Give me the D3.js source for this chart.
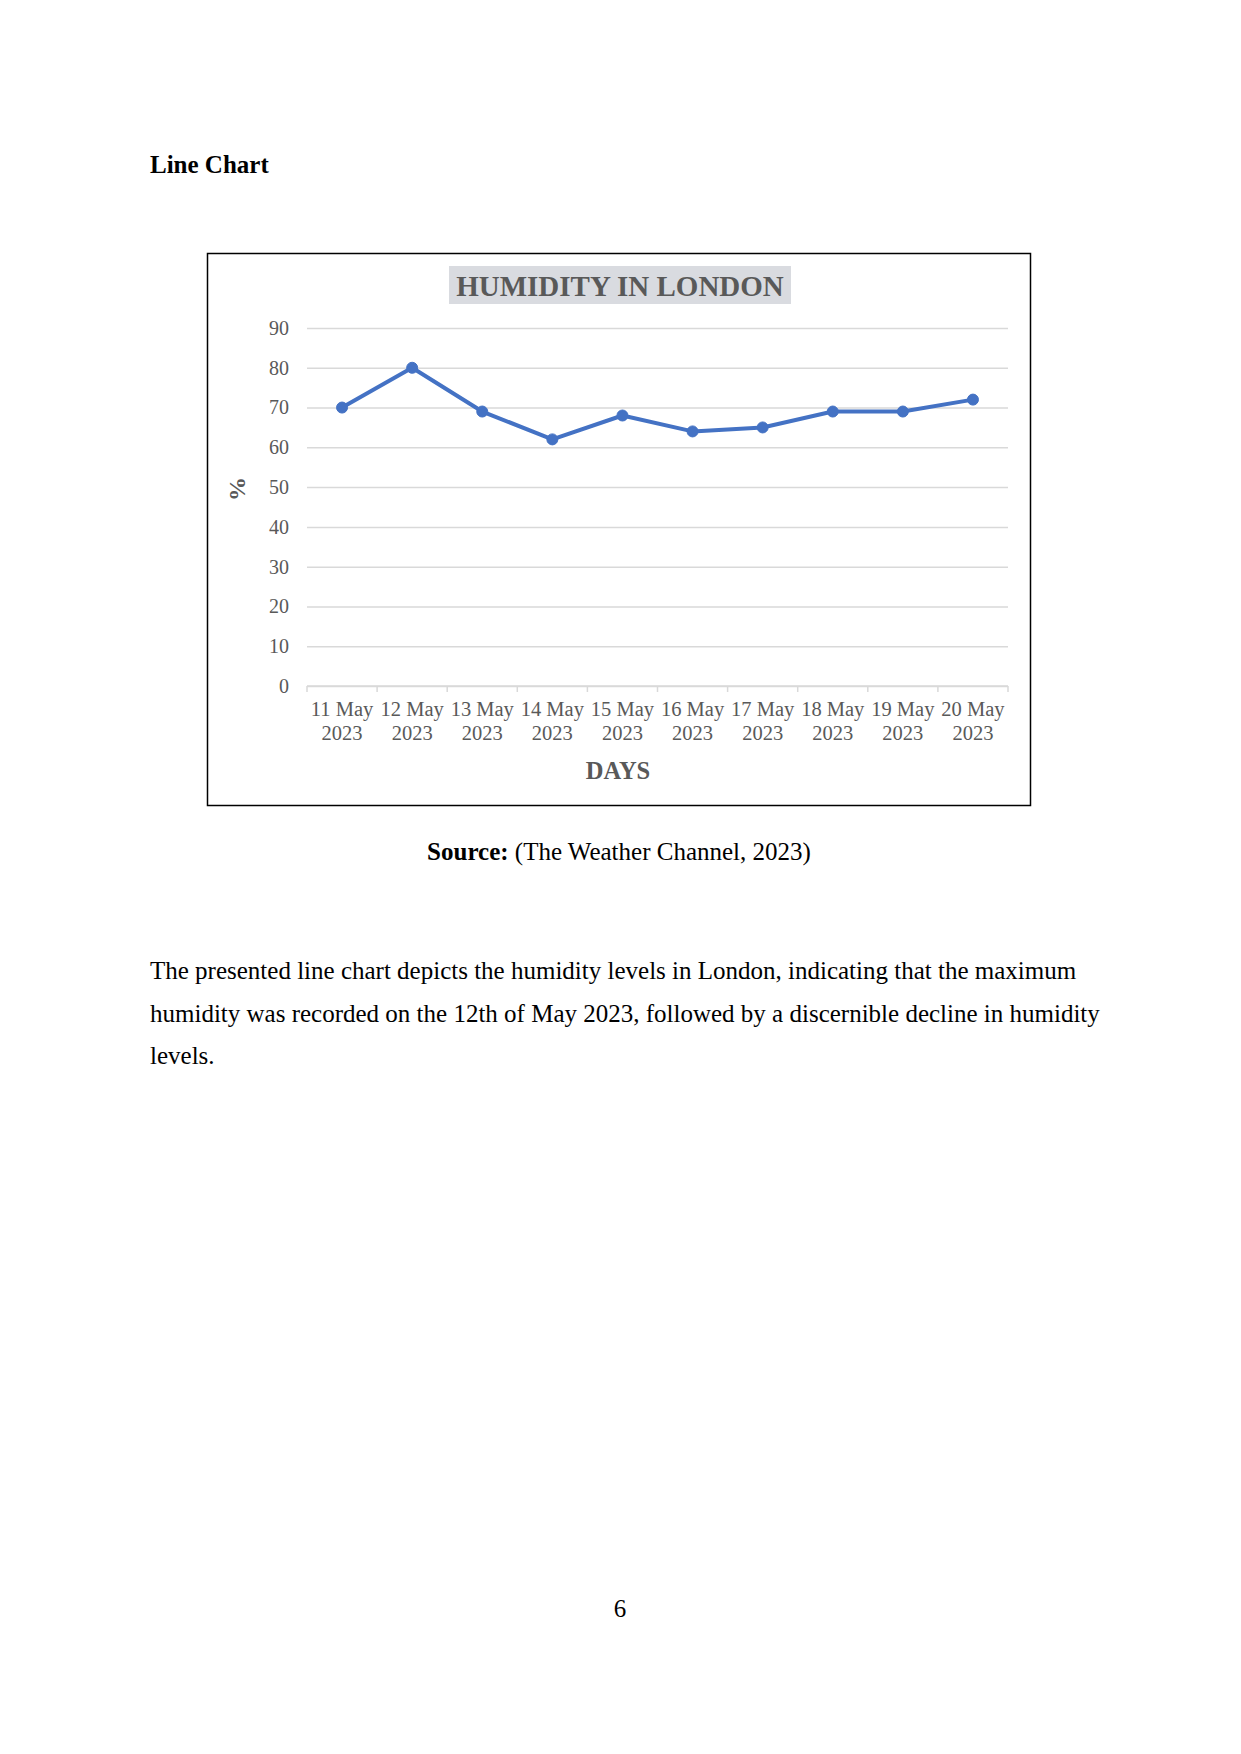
<!DOCTYPE html>
<html>
<head>
<meta charset="utf-8">
<script src="https://cdn.jsdelivr.net/npm/d3@7"></script>
<style>
  html, body { margin: 0; padding: 0; background: #fff; }
  svg { display: block; }
  text { font-family: "Liberation Serif", "Times New Roman", serif; }
</style>
</head>
<body>
<svg id="page" width="1241" height="1754"></svg>
<script>
const days = ["11 May 2023", "12 May 2023", "13 May 2023", "14 May 2023", "15 May 2023",
              "16 May 2023", "17 May 2023", "18 May 2023", "19 May 2023", "20 May 2023"];
const humidity = [70, 80, 69, 62, 68, 64, 65, 69, 69, 72];
const yTicks = [0, 10, 20, 30, 40, 50, 60, 70, 80, 90];
const chartTitle = "HUMIDITY IN LONDON";
const xTitle = "DAYS";
const yTitle = "%";
const bodyLines = [
  "The presented line chart depicts the humidity levels in London, indicating that the maximum",
  "humidity was recorded on the 12th of May 2023, followed by a discernible decline in humidity",
  "levels."
];

const svg = d3.select("#page");

// Heading
svg.append("text").attr("x", 150).attr("y", 173)
  .attr("font-size", 25).attr("font-weight", "bold").attr("fill", "#000")
  .text("Line Chart");

// Chart frame
svg.append("rect").attr("x", 207.5).attr("y", 253.5).attr("width", 823).attr("height", 552)
  .attr("fill", "#fff").attr("stroke", "#000").attr("stroke-width", 1.5);

// Scales
const x = d3.scaleBand().domain(days).range([307, 1008]);
const y = d3.scaleLinear().domain([0, 90]).range([686, 328]);

// Gridlines + y labels
const yAxis = svg.append("g").attr("transform", "translate(307,0)")
  .call(d3.axisLeft(y).tickValues(yTicks).tickSize(-(1008 - 307)).tickPadding(18));
yAxis.select(".domain").remove();
yAxis.selectAll(".tick line").attr("stroke", "#d9d9d9").attr("stroke-width", 1.5);
yAxis.selectAll(".tick text").attr("font-size", 20).attr("fill", "#595959")
  .attr("font-family", "Liberation Serif, serif");

// X axis line and ticks between categories
const xAxisG = svg.append("g");
xAxisG.append("line").attr("x1", 307).attr("x2", 1008).attr("y1", y(0)).attr("y2", y(0))
  .attr("stroke", "#d9d9d9").attr("stroke-width", 1.5);
const boundaries = days.map(d => x(d)).concat([x(days[days.length - 1]) + x.bandwidth()]);
xAxisG.selectAll("line.tk").data(boundaries).join("line").attr("class", "tk")
  .attr("x1", d => d).attr("x2", d => d).attr("y1", y(0)).attr("y2", y(0) + 6)
  .attr("stroke", "#d9d9d9").attr("stroke-width", 1.5);

// X labels (two lines)
const xl = xAxisG.selectAll("text.xl").data(days).join("text").attr("class", "xl")
  .attr("text-anchor", "middle").attr("font-size", 20.5).attr("fill", "#595959");
xl.each(function (d) {
  const parts = d.split(" ");
  const t = d3.select(this);
  const cx = x(d) + x.bandwidth() / 2;
  t.append("tspan").attr("x", cx).attr("y", 716).text(parts[0] + " " + parts[1]);
  t.append("tspan").attr("x", cx).attr("y", 740).text(parts[2]);
});

// Line
const line = d3.line().x((d, i) => x(days[i]) + x.bandwidth() / 2).y(d => y(d));
svg.append("path").datum(humidity).attr("d", line)
  .attr("fill", "none").attr("stroke", "#4472c4").attr("stroke-width", 4)
  .attr("stroke-linejoin", "round").attr("stroke-linecap", "round");
svg.selectAll("circle.pt").data(humidity).join("circle").attr("class", "pt")
  .attr("cx", (d, i) => x(days[i]) + x.bandwidth() / 2).attr("cy", d => y(d))
  .attr("r", 5.5).attr("fill", "#4472c4").attr("stroke", "#4472c4").attr("stroke-width", 1);

// Chart title with grey background
svg.append("rect").attr("x", 449).attr("y", 266).attr("width", 342).attr("height", 38)
  .attr("fill", "#d9dbe0");
svg.append("text").attr("x", 620).attr("y", 296).attr("text-anchor", "middle")
  .attr("font-size", 29).attr("font-weight", "bold").attr("fill", "#595959")
  .text(chartTitle);

// Axis titles
svg.append("text").attr("x", 618).attr("y", 779).attr("text-anchor", "middle")
  .attr("font-size", 24.5).attr("font-weight", "bold").attr("fill", "#595959")
  .text(xTitle);
svg.append("text").attr("transform", "translate(245,489) rotate(-90)").attr("text-anchor", "middle")
  .attr("font-size", 24).attr("font-weight", "bold").attr("fill", "#595959")
  .text(yTitle);

// Source
const src = svg.append("text").attr("x", 619).attr("y", 860).attr("text-anchor", "middle")
  .attr("font-size", 25).attr("fill", "#000");
src.append("tspan").attr("font-weight", "bold").text("Source:");
src.append("tspan").text(" (The Weather Channel, 2023)");

// Body paragraph
svg.selectAll("text.body").data(bodyLines).join("text").attr("class", "body")
  .attr("x", 150).attr("y", (d, i) => 979 + i * 42.7)
  .attr("font-size", 25).attr("fill", "#000").text(d => d);

// Page number
svg.append("text").attr("x", 620).attr("y", 1617).attr("text-anchor", "middle")
  .attr("font-size", 25).attr("fill", "#000").text("6");
</script>
</body>
</html>
